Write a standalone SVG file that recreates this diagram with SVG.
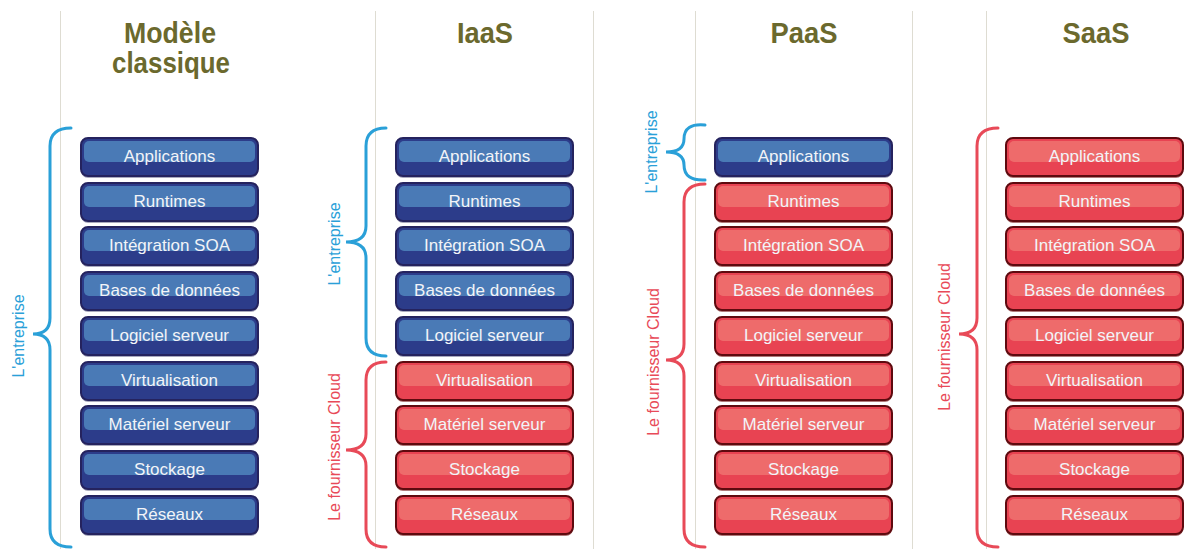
<svg xmlns="http://www.w3.org/2000/svg" width="1201" height="549" viewBox="0 0 1201 549">
<style>
.grid{stroke:#dedcd2;stroke-width:1}
.title{font-family:"Liberation Sans",Arial,sans-serif;font-weight:bold;font-size:29px;fill:#6b692d;text-anchor:middle}
.lbl{font-family:"Liberation Sans",Arial,sans-serif;font-size:17px;fill:#f2f4f8;text-anchor:middle}
.side{font-family:"Liberation Sans",Arial,sans-serif;font-size:16px;text-anchor:middle}
.sb{fill:#2aa0d8}
.sr{fill:#e84a58}
.shb{fill:#a9a9bd}
.shr{fill:#b07a7a}
.bb{fill:#2c3c8a;stroke:#25235e;stroke-width:2}
.tb{fill:#4a7ab6}
.br{fill:#e84352;stroke:#5e0a0f;stroke-width:2}
.tr{fill:#ee6b6b}
.brace{fill:none;stroke-width:3;stroke-linecap:round}
.cb{stroke:#2aa0d8}
.cr{stroke:#e84a58}
</style>
<defs>
<g id="boxB"><rect class="shb" x="0" y="2" width="177" height="38" rx="7"/><rect class="bb" x="0" y="0" width="177" height="38" rx="7"/><rect class="tb" x="3" y="3" width="171" height="21" rx="5"/></g>
<g id="boxR"><rect class="shr" x="0" y="2" width="177" height="38" rx="7"/><rect class="br" x="0" y="0" width="177" height="38" rx="7"/><rect class="tr" x="3" y="3" width="171" height="21" rx="5"/></g>
</defs>
<rect width="1201" height="549" fill="#ffffff"/>
<g id="grid">
<line class="grid" x1="60.5" y1="11" x2="60.5" y2="549"/>
<line class="grid" x1="375.5" y1="11" x2="375.5" y2="549"/>
<line class="grid" x1="593.5" y1="11" x2="593.5" y2="549"/>
<line class="grid" x1="695.5" y1="11" x2="695.5" y2="549"/>
<line class="grid" x1="912.5" y1="11" x2="912.5" y2="549"/>
<line class="grid" x1="986.5" y1="11" x2="986.5" y2="549"/>
</g>
<g id="titles">
<text class="title" x="170" y="43" textLength="92" lengthAdjust="spacingAndGlyphs">Modèle</text>
<text class="title" x="171" y="73" textLength="118" lengthAdjust="spacingAndGlyphs">classique</text>
<text class="title" x="485" y="43" textLength="56" lengthAdjust="spacingAndGlyphs">IaaS</text>
<text class="title" x="804" y="43" textLength="67" lengthAdjust="spacingAndGlyphs">PaaS</text>
<text class="title" x="1096" y="43" textLength="67" lengthAdjust="spacingAndGlyphs">SaaS</text>
</g>
<g id="connectors">
<path class="brace cb" d="M71,128 Q50,128 50,146 L50,318 Q50,334 33,334 Q50,334 50,350 L50,529 Q50,547 71,547"/>
<path class="brace cb" d="M386,128 Q366,128 366,146 L366,226 Q366,242 346,242 Q366,242 366,258 L366,338 Q366,356 386,356"/>
<path class="brace cr" d="M386,362 Q366,362 366,380 L366,434 Q366,450 346,450 Q366,450 366,466 L366,529 Q366,547 386,547"/>
<path class="brace cb" d="M705,125 Q684,123 684,139 Q684,152 666,152 Q684,152 684,165 Q684,181 705,180"/>
<path class="brace cr" d="M705,184 Q684,184 684,202 L684,344 Q684,360 666,360 Q684,360 684,376 L684,529 Q684,547 705,547"/>
<path class="brace cr" d="M998,128 Q977,128 977,146 L977,318 Q977,334 959,334 Q977,334 977,350 L977,529 Q977,547 998,547"/>
</g>
<g id="sidelabels">
<text class="side sb" transform="translate(24,336) rotate(-90)">L'entreprise</text>
<text class="side sb" transform="translate(340,244) rotate(-90)">L'entreprise</text>
<text class="side sr" transform="translate(340,447) rotate(-90)">Le fournisseur Cloud</text>
<text class="side sb" transform="translate(657,152) rotate(-90)">L'entreprise</text>
<text class="side sr" transform="translate(659,362) rotate(-90)">Le fournisseur Cloud</text>
<text class="side sr" transform="translate(950,337) rotate(-90)">Le fournisseur Cloud</text>
</g>
<g id="col1">
<g id="c1-app"><use href="#boxB" x="81" y="138"/><text class="lbl" x="169.5" y="162">Applications</text></g>
<g id="c1-run"><use href="#boxB" x="81" y="183"/><text class="lbl" x="169.5" y="207">Runtimes</text></g>
<g id="c1-soa"><use href="#boxB" x="81" y="227"/><text class="lbl" x="169.5" y="251">Intégration SOA</text></g>
<g id="c1-bdd"><use href="#boxB" x="81" y="272"/><text class="lbl" x="169.5" y="296">Bases de données</text></g>
<g id="c1-log"><use href="#boxB" x="81" y="317"/><text class="lbl" x="169.5" y="341">Logiciel serveur</text></g>
<g id="c1-vir"><use href="#boxB" x="81" y="362"/><text class="lbl" x="169.5" y="386">Virtualisation</text></g>
<g id="c1-mat"><use href="#boxB" x="81" y="406"/><text class="lbl" x="169.5" y="430">Matériel serveur</text></g>
<g id="c1-sto"><use href="#boxB" x="81" y="451"/><text class="lbl" x="169.5" y="475">Stockage</text></g>
<g id="c1-res"><use href="#boxB" x="81" y="496"/><text class="lbl" x="169.5" y="520">Réseaux</text></g>
</g>
<g id="col2">
<g id="c2-app"><use href="#boxB" x="396" y="138"/><text class="lbl" x="484.5" y="162">Applications</text></g>
<g id="c2-run"><use href="#boxB" x="396" y="183"/><text class="lbl" x="484.5" y="207">Runtimes</text></g>
<g id="c2-soa"><use href="#boxB" x="396" y="227"/><text class="lbl" x="484.5" y="251">Intégration SOA</text></g>
<g id="c2-bdd"><use href="#boxB" x="396" y="272"/><text class="lbl" x="484.5" y="296">Bases de données</text></g>
<g id="c2-log"><use href="#boxB" x="396" y="317"/><text class="lbl" x="484.5" y="341">Logiciel serveur</text></g>
<g id="c2-vir"><use href="#boxR" x="396" y="362"/><text class="lbl" x="484.5" y="386">Virtualisation</text></g>
<g id="c2-mat"><use href="#boxR" x="396" y="406"/><text class="lbl" x="484.5" y="430">Matériel serveur</text></g>
<g id="c2-sto"><use href="#boxR" x="396" y="451"/><text class="lbl" x="484.5" y="475">Stockage</text></g>
<g id="c2-res"><use href="#boxR" x="396" y="496"/><text class="lbl" x="484.5" y="520">Réseaux</text></g>
</g>
<g id="col3">
<g id="c3-app"><use href="#boxB" x="715" y="138"/><text class="lbl" x="803.5" y="162">Applications</text></g>
<g id="c3-run"><use href="#boxR" x="715" y="183"/><text class="lbl" x="803.5" y="207">Runtimes</text></g>
<g id="c3-soa"><use href="#boxR" x="715" y="227"/><text class="lbl" x="803.5" y="251">Intégration SOA</text></g>
<g id="c3-bdd"><use href="#boxR" x="715" y="272"/><text class="lbl" x="803.5" y="296">Bases de données</text></g>
<g id="c3-log"><use href="#boxR" x="715" y="317"/><text class="lbl" x="803.5" y="341">Logiciel serveur</text></g>
<g id="c3-vir"><use href="#boxR" x="715" y="362"/><text class="lbl" x="803.5" y="386">Virtualisation</text></g>
<g id="c3-mat"><use href="#boxR" x="715" y="406"/><text class="lbl" x="803.5" y="430">Matériel serveur</text></g>
<g id="c3-sto"><use href="#boxR" x="715" y="451"/><text class="lbl" x="803.5" y="475">Stockage</text></g>
<g id="c3-res"><use href="#boxR" x="715" y="496"/><text class="lbl" x="803.5" y="520">Réseaux</text></g>
</g>
<g id="col4">
<g id="c4-app"><use href="#boxR" x="1006" y="138"/><text class="lbl" x="1094.5" y="162">Applications</text></g>
<g id="c4-run"><use href="#boxR" x="1006" y="183"/><text class="lbl" x="1094.5" y="207">Runtimes</text></g>
<g id="c4-soa"><use href="#boxR" x="1006" y="227"/><text class="lbl" x="1094.5" y="251">Intégration SOA</text></g>
<g id="c4-bdd"><use href="#boxR" x="1006" y="272"/><text class="lbl" x="1094.5" y="296">Bases de données</text></g>
<g id="c4-log"><use href="#boxR" x="1006" y="317"/><text class="lbl" x="1094.5" y="341">Logiciel serveur</text></g>
<g id="c4-vir"><use href="#boxR" x="1006" y="362"/><text class="lbl" x="1094.5" y="386">Virtualisation</text></g>
<g id="c4-mat"><use href="#boxR" x="1006" y="406"/><text class="lbl" x="1094.5" y="430">Matériel serveur</text></g>
<g id="c4-sto"><use href="#boxR" x="1006" y="451"/><text class="lbl" x="1094.5" y="475">Stockage</text></g>
<g id="c4-res"><use href="#boxR" x="1006" y="496"/><text class="lbl" x="1094.5" y="520">Réseaux</text></g>
</g>
</svg>
